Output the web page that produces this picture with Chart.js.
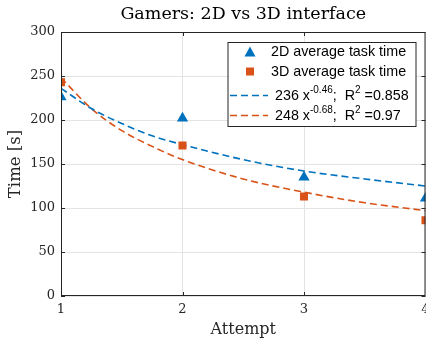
<!DOCTYPE html>
<html lang="en">
<head>
<meta charset="UTF-8">
<title>Gamers: 2D vs 3D interface</title>
<script src="https://cdn.jsdelivr.net/npm/chart.js@4"></script>
<style>
	html, body { margin: 0; padding: 0; background: #fff; overflow: hidden; width: 426px; height: 347px; }
</style>
</head>
<body>
	<canvas id="chart" width="432" height="347"></canvas>

	<script>
		var attempts = [1, 2, 3, 4];
		var time2D = [226, 202, 135, 111];
		var time3D = [243, 171, 113, 86];
		// power-law fits, sampled along the dashed curves
		var fitX = [1, 1.25, 1.5, 1.75, 2, 2.5, 3, 3.5, 4];
		var fit2D = [236, 213, 196, 182, 172, 155, 142, 133, 125];
		var fit3D = [248, 213, 188, 170, 155, 133, 118, 106, 97];
		var yTicks = [0, 50, 100, 150, 200, 250, 300];

		var blue = '#0072BD';
		var orange = '#D95319';
		var axisCol = '#262626';
		var serif = 'DejaVu Serif';

		function pts(xs, ys) {
			var out = [];
			for (var i = 0; i < xs.length; ++i) {
				out.push({ x : xs[i], y : ys[i] });
			}
			return out;
		}

		// box around plot + inward ticks on all four sides
		var framePlugin = {
			id : 'frame',
			afterDatasetsDraw : function(chart) {
				var ctx = chart.ctx;
				var a = chart.chartArea;
				var xs = chart.scales.x, ys = chart.scales.y;
				ctx.save();
				ctx.strokeStyle = axisCol;
				ctx.lineWidth = 1;
				ctx.strokeRect(a.left + 0.5, a.top + 0.5, a.right - a.left - 1, a.bottom - a.top - 1);
				ctx.beginPath();
				for (var i = 0; i < yTicks.length; ++i) {
					var py = Math.round(ys.getPixelForValue(yTicks[i])) + 0.5;
					ctx.moveTo(a.left, py); ctx.lineTo(a.left + 4, py);
					ctx.moveTo(a.right, py); ctx.lineTo(a.right - 4, py);
				}
				for (var j = 0; j < attempts.length; ++j) {
					var px = Math.round(xs.getPixelForValue(attempts[j])) + 0.5;
					ctx.moveTo(px, a.bottom); ctx.lineTo(px, a.bottom - 4);
					ctx.moveTo(px, a.top); ctx.lineTo(px, a.top + 4);
				}
				ctx.stroke();
				ctx.restore();
			}
		};

		// legend with superscripts, drawn by hand
		function drawParts(ctx, parts, x, y) {
			for (var i = 0; i < parts.length; ++i) {
				var p = parts[i];
				ctx.font = (p.sup ? '10px' : '14.3px') + ' "Liberation Sans", Arial, sans-serif';
				ctx.fillText(p.t, x, p.sup ? y - 6 : y);
				x += ctx.measureText(p.t).width;
			}
		}

		var legendPlugin = {
			id : 'boxLegend',
			afterDraw : function(chart) {
				var ctx = chart.ctx;
				var a = chart.chartArea;
				var x0 = a.right - 197.5, y0 = a.top + 10.5, w = 188, h = 84;
				ctx.save();
				ctx.fillStyle = '#fff';
				ctx.fillRect(x0, y0, w, h);
				ctx.strokeStyle = axisCol;
				ctx.lineWidth = 1;
				ctx.strokeRect(x0, y0, w, h);

				var mx = x0 + 22;
				// triangle
				ctx.fillStyle = blue;
				ctx.beginPath();
				ctx.moveTo(mx, y0 + 4);
				ctx.lineTo(mx + 5.5, y0 + 14);
				ctx.lineTo(mx - 5.5, y0 + 14);
				ctx.closePath();
				ctx.fill();
				// square
				ctx.fillStyle = orange;
				ctx.fillRect(mx - 4, y0 + 25, 8, 8);
				// dashed lines
				ctx.lineWidth = 1.5;
				ctx.setLineDash([7, 4]);
				ctx.strokeStyle = blue;
				ctx.beginPath(); ctx.moveTo(x0 + 2, y0 + 53); ctx.lineTo(x0 + 40, y0 + 53); ctx.stroke();
				ctx.strokeStyle = orange;
				ctx.beginPath(); ctx.moveTo(x0 + 2, y0 + 73); ctx.lineTo(x0 + 40, y0 + 73); ctx.stroke();
				ctx.setLineDash([]);

				ctx.fillStyle = '#000';
				ctx.textBaseline = 'middle';
				drawParts(ctx, [{ t : '2D average task time' }], x0 + 43, y0 + 10);
				drawParts(ctx, [{ t : '3D average task time' }], x0 + 43, y0 + 30);
				drawParts(ctx, [{ t : '236 x' }, { t : '-0.46', sup : true }, { t : ';  R' }, { t : '2', sup : true }, { t : ' =0.858' }], x0 + 47, y0 + 54);
				drawParts(ctx, [{ t : '248 x' }, { t : '-0.68', sup : true }, { t : ';  R' }, { t : '2', sup : true }, { t : ' =0.97' }], x0 + 47, y0 + 74);
				ctx.restore();
			}
		};

		var ctx = document.getElementById('chart').getContext('2d');
		var chart = new Chart(ctx, {
			type : 'line',
			data : {
				datasets : [ {
					label : '2D average task time',
					data : pts(attempts, time2D),
					showLine : false,
					pointStyle : 'triangle',
					pointRadius : 6.5,
					pointBorderWidth : 0,
					backgroundColor : blue,
					borderColor : blue,
					clip : 0
				}, {
					label : '3D average task time',
					data : pts(attempts, time3D),
					showLine : false,
					pointStyle : 'rect',
					pointRadius : 5.7,
					pointBorderWidth : 0,
					backgroundColor : orange,
					borderColor : orange,
					clip : 0
				}, {
					label : '2D fit',
					data : pts(fitX, fit2D),
					borderColor : blue,
					borderWidth : 1.6,
					borderDash : [ 7, 4 ],
					pointRadius : 0,
					cubicInterpolationMode : 'monotone',
					fill : false,
					clip : 0
				}, {
					label : '3D fit',
					data : pts(fitX, fit3D),
					borderColor : orange,
					borderWidth : 1.6,
					borderDash : [ 7, 4 ],
					pointRadius : 0,
					cubicInterpolationMode : 'monotone',
					fill : false,
					clip : 0
				} ]
			},
			options : {
				responsive : false,
				animation : false,
				layout : { padding : { left : 0, right : 0, top : 0, bottom : 0 } },
				plugins : {
					legend : { display : false },
					tooltip : { enabled : false },
					title : {
						display : true,
						fullSize : false,
						text : 'Gamers: 2D vs 3D interface',
						color : '#000',
						font : { family : serif, size : 17.5, weight : 'normal' },
						padding : { top : 4, bottom : 7 }
					}
				},
				scales : {
					x : {
						type : 'linear',
						min : 1,
						max : 4,
						afterBuildTicks : function(s) {
							s.ticks = attempts.map(function(v) { return { value : v }; });
						},
						afterFit : function(s) {
							s.height = 51;
							s.paddingLeft = 0;
							s.paddingRight = 0;
						},
						border : { display : false },
						grid : { color : '#e3e3e3', drawTicks : false },
						ticks : { color : axisCol, padding : 6, font : { family : serif, size : 13 } },
						title : {
							display : true,
							text : 'Attempt',
							color : axisCol,
							font : { family : serif, size : 16 },
							padding : { top : 2, bottom : 8 }
						}
					},
					y : {
						min : 0,
						max : 300,
						afterBuildTicks : function(s) {
							s.ticks = yTicks.map(function(v) { return { value : v }; });
						},
						afterFit : function(s) {
							s.width = 61;
							s.paddingTop = 0;
							s.paddingBottom = 0;
						},
						border : { display : false },
						grid : { color : '#e3e3e3', drawTicks : false },
						ticks : { color : axisCol, padding : 6, font : { family : serif, size : 13 } },
						title : {
							display : true,
							text : 'Time [s]',
							color : axisCol,
							font : { family : serif, size : 16.5 },
							padding : { top : 6, bottom : 2 }
						}
					}
				}
			},
			plugins : [ framePlugin, legendPlugin ]
		});
	</script>
</body>
</html>
